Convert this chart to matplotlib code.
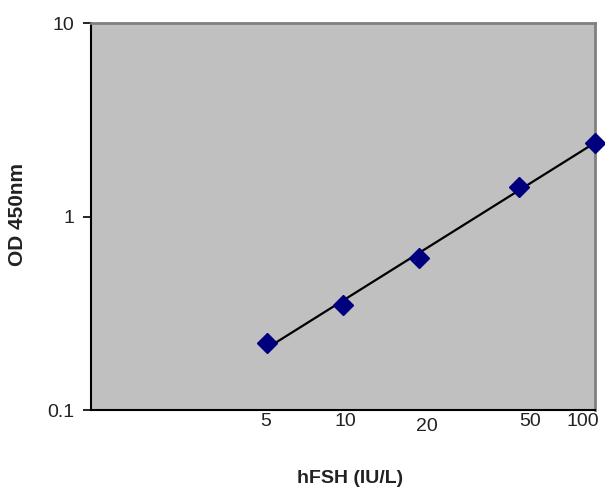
import matplotlib
matplotlib.use('Agg')
import matplotlib.pyplot as plt
import matplotlib.transforms as mtransforms
import numpy as np

# standard curve points
conc = [5, 10, 20, 50, 100]
od = [0.222, 0.348, 0.615, 1.43, 2.41]

x_ticks = [5, 10, 20, 50, 100]
x_labels = ['5', '10', '20', '50', '100']
y_ticks = [0.1, 1, 10]
y_labels = ['0.1', '1', '10']

plt.rcParams['font.family'] = ['Liberation Sans', 'DejaVu Sans']

fig = plt.figure(figsize=(6.05, 4.93), dpi=100)
ax = fig.add_axes([0.150, 0.168, 0.833, 0.785])
ax.set_facecolor('#c0c0c0')

# power fit through the standards (straight line on log-log)
slope, icpt = np.polyfit(np.log10(conc), np.log10(od), 1)
xf = np.array([min(conc), max(conc)])
ax.plot(xf, 10 ** (icpt + slope * np.log10(xf)), color='black', lw=1.6, zorder=2)
ax.plot(conc, od, linestyle='none', marker='D', ms=10, color='#00007f', zorder=3,
        clip_on=False)

ax.set_xscale('log')
ax.set_yscale('log')
ax.set_xlim(1, 100)
ax.set_ylim(0.1, 10)

ax.set_xticks(x_ticks)
ax.set_xticklabels(x_labels)
ax.set_yticks(y_ticks)
ax.set_yticklabels(y_labels)
ax.minorticks_off()
ax.tick_params(axis='x', length=0, pad=2, labelsize=14, labelcolor='#222222')
ax.tick_params(axis='y', length=6, width=1.2, pad=6, labelsize=14, labelcolor='#222222')

# the labels in the original sit a little off their ticks
nudges = [(-1, 0), (3, 0), (8, -5), (11, 0), (-12, 0)]
for lab, (dx, dy) in zip(ax.get_xticklabels(), nudges):
    off = mtransforms.ScaledTranslation(dx / 100, dy / 100, fig.dpi_scale_trans)
    lab.set_transform(lab.get_transform() + off)

for s in ['left', 'bottom']:
    ax.spines[s].set_color('black')
    ax.spines[s].set_linewidth(1.5)
for s in ['top', 'right']:
    ax.spines[s].set_color('#808080')
    ax.spines[s].set_linewidth(2)

ax.set_xlabel('hFSH (IU/L)', fontsize=14, fontweight='bold', color='#222222')
ax.set_ylabel('OD 450nm', fontsize=15, fontweight='bold', color='#222222')
ax.xaxis.set_label_coords(0.514, -0.155)
ax.yaxis.set_label_coords(-0.127, 0.506)

plt.savefig('out.png', dpi=100)
